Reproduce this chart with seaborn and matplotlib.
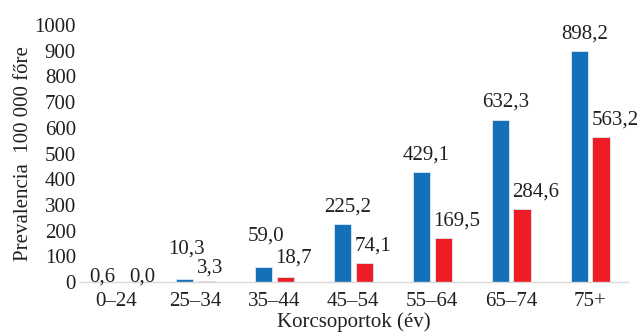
import matplotlib
matplotlib.use("Agg")
import matplotlib.pyplot as plt
import seaborn as sns
import pandas as pd

age_groups = ["0–24", "25–34", "35–44", "45–54", "55–64", "65–74", "75+"]
series_names = ["Férfiak", "Nők"]
men = [0.6, 10.3, 59.0, 225.2, 429.1, 632.3, 898.2]
women = [0.0, 3.3, 18.7, 74.1, 169.5, 284.6, 563.2]
y_ticks = [0, 100, 200, 300, 400, 500, 600, 700, 800, 900, 1000]

df = pd.DataFrame({
    "age": age_groups * 2,
    "sex": [series_names[0]] * len(men) + [series_names[1]] * len(women),
    "value": men + women,
})

sns.set_theme(style="white")
plt.rcParams["font.family"] = ["Liberation Serif", "DejaVu Serif"]
text_color = "#231f20"
fs = 15

fig = plt.figure(figsize=(6.41, 3.33), dpi=100)
ax = fig.add_axes([0.125, 0.153, 0.855, 0.772])

sns.barplot(data=df, x="age", y="value", hue="sex", order=age_groups,
            hue_order=series_names, palette=["#1470b8", "#ee1d25"],
            saturation=1, width=0.55, gap=0.2, edgecolor="#dfe9f3",
            linewidth=0.6, legend=False, ax=ax)

# label nudges (pixels) for the low bars where labels would collide
nudges = {
    (0, 0): (-8, -12), (1, 0): (12, -12),
    (0, 1): (-3, 13), (1, 1): (0, -4),
    (0, 2): (-3, 14), (1, 2): (0, 2),
}

# value labels above each bar, Hungarian decimal comma
for s, container in enumerate(ax.containers):
    for i, bar in enumerate(container):
        h = bar.get_height()
        dx, dy = nudges.get((s, i), (0, 0))
        txt = f"{h:.1f}".replace(".", ",")
        if s == 0:
            x = bar.get_x() + bar.get_width() / 2
            ha, dx0 = "center", 5
        else:
            x = bar.get_x()
            ha, dx0 = "left", -1
        ax.annotate(txt, (x, h), xytext=(dx0 + dx, 17 + dy),
                    textcoords="offset pixels", ha=ha, va="center",
                    fontsize=fs, color=text_color)

ax.set_ylim(0, 1000)
ax.set_xlim(-0.46, 6.48)
ax.set_yticks(y_ticks)
ax.set_yticklabels([str(t) for t in y_ticks])
ax.tick_params(axis="both", length=0, labelsize=fs, colors=text_color)
ax.tick_params(axis="y", pad=3)
ax.tick_params(axis="x", pad=7)

for side in ["top", "right", "left"]:
    ax.spines[side].set_visible(False)
ax.spines["bottom"].set_color("#d9d9d9")
ax.spines["bottom"].set_linewidth(1.0)

ax.set_ylabel("Prevalencia  100 000 főre", fontsize=fs, color=text_color, labelpad=1)
ax.set_xlabel("Korcsoportok (év)", fontsize=fs, color=text_color, labelpad=1)

fig.savefig("out.png", dpi=100)
